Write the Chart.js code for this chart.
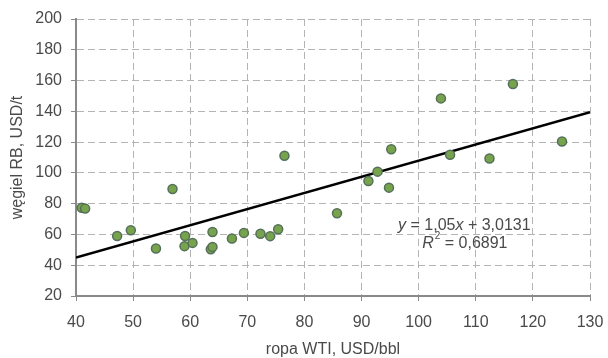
<!DOCTYPE html>
<html>
<head>
<meta charset="utf-8">
<script src="https://cdn.jsdelivr.net/npm/chart.js@4.4.1/dist/chart.umd.min.js"></script>
<style>
  html, body { margin: 0; padding: 0; background: #ffffff; }
  #wrap { width: 608px; height: 358px; }
</style>
</head>
<body>
<div id="wrap"><canvas id="c" width="608" height="358"></canvas></div>
<script>
// Data
const oilPrice  = [41.0, 41.6, 47.2, 49.6, 54.0, 56.9, 59.1, 59.0, 60.4, 63.6, 63.9, 63.9, 67.3, 69.4, 72.3, 74.0, 75.4, 76.5, 85.7, 91.2, 92.8, 95.2, 94.8, 103.9, 105.5, 112.4, 116.5, 125.1];
const coalPrice = [77.3, 76.8, 59.0, 62.7, 50.9, 89.5, 59.0, 52.4, 54.5, 50.4, 51.9, 61.6, 57.4, 61.0, 60.4, 58.9, 63.4, 111.1, 73.8, 94.7, 100.8, 115.4, 90.4, 148.4, 111.8, 109.4, 157.8, 120.4];
const trendSlope = [1.05];
const trendIntercept = [3.0131];
const trendRange = [40, 130];
const xTicks = [40, 50, 60, 70, 80, 90, 100, 110, 120, 130];
const yTicks = [20, 40, 60, 80, 100, 120, 140, 160, 180, 200];
const xTitle = 'ropa WTI, USD/bbl';
const yTitle = 'węgiel RB, USD/t';
const eqLine1 = ['y', ' = 1,05', 'x', ' + 3,0131'];
const eqLine2 = ['R', '2', ' = 0,6891'];

const FONT = '"Liberation Sans", Arial, sans-serif';
const TXT = '#4a4a4a';

const scatterData = oilPrice.map((x, i) => ({ x: x, y: coalPrice[i] }));
const trendData = trendRange.map(x => ({ x: x, y: trendSlope[0] * x + trendIntercept[0] }));

const eqPlugin = {
  id: 'eqLabel',
  afterDatasetsDraw(chart) {
    const ctx = chart.ctx;
    const xs = chart.scales.x, ys = chart.scales.y;
    const cx = xs.getPixelForValue(108);
    const y1 = ys.getPixelForValue(66);
    const y2 = ys.getPixelForValue(54.3);
    ctx.save();
    ctx.fillStyle = TXT;
    ctx.textBaseline = 'middle';
    ctx.textAlign = 'left';
    const normal = '16px ' + FONT;
    const ital = 'italic 16px ' + FONT;
    const small = '10px ' + FONT;
    const parts1 = [[eqLine1[0], ital], [eqLine1[1], normal], [eqLine1[2], ital], [eqLine1[3], normal]];
    let w = 0;
    parts1.forEach(p => { ctx.font = p[1]; w += ctx.measureText(p[0]).width; });
    let x = cx - w / 2;
    parts1.forEach(p => { ctx.font = p[1]; ctx.fillText(p[0], x, y1); x += ctx.measureText(p[0]).width; });
    ctx.font = ital; const wR = ctx.measureText(eqLine2[0]).width;
    ctx.font = small; const w2 = ctx.measureText(eqLine2[1]).width;
    ctx.font = normal; const wE = ctx.measureText(eqLine2[2]).width;
    x = cx - (wR + w2 + wE) / 2;
    ctx.font = ital; ctx.fillText(eqLine2[0], x, y2); x += wR + 1;
    ctx.font = small; ctx.fillText(eqLine2[1], x, y2 - 7); x += w2;
    ctx.font = normal; ctx.fillText(eqLine2[2], x, y2);
    ctx.restore();
  }
};

new Chart(document.getElementById('c'), {
  type: 'scatter',
  data: {
    datasets: [
      {
        type: 'line',
        data: trendData,
        borderColor: '#000000',
        borderWidth: 2.5,
        pointRadius: 0,
        fill: false,
        order: 2
      },
      {
        data: scatterData,
        backgroundColor: '#77a34c',
        borderColor: '#55705a',
        borderWidth: 1.5,
        pointRadius: 4.5,
        order: 1
      }
    ]
  },
  options: {
    responsive: false,
    animation: false,
    devicePixelRatio: 1,
    layout: { padding: { left: 0, right: 18, top: 19, bottom: 0 } },
    plugins: { legend: { display: false }, tooltip: { enabled: false } },
    scales: {
      x: {
        type: 'linear',
        min: trendRange[0],
        max: trendRange[1],
        afterBuildTicks(scale) { scale.ticks = xTicks.map(v => ({ value: v })); },
        afterFit(scale) { scale.height = 62; scale.paddingRight = 14; scale.paddingLeft = 14; },
        grid: { color: '#b4b4b4', lineWidth: 1, tickLength: 5, tickColor: '#8a8a8a', tickBorderDash: [] },
        border: { display: true, color: '#8a8a8a', width: 2, dash: [7, 4] },
        ticks: { color: TXT, font: { family: FONT, size: 16 }, padding: 12, maxRotation: 0, autoSkip: false },
        title: { display: true, text: xTitle, color: TXT, font: { family: FONT, size: 16, lineHeight: 1 }, padding: { top: 0, bottom: 0 } }
      },
      y: {
        type: 'linear',
        min: 20,
        max: 200,
        afterBuildTicks(scale) { scale.ticks = yTicks.map(v => ({ value: v })); },
        afterFit(scale) { scale.width = 76; },
        grid: { color: '#b4b4b4', lineWidth: 1, tickLength: 5, tickColor: '#8a8a8a', tickBorderDash: [] },
        border: { display: true, color: '#8a8a8a', width: 2, dash: [7, 4] },
        ticks: { color: TXT, font: { family: FONT, size: 16 }, padding: 9, autoSkip: false },
        title: { display: true, text: yTitle, color: TXT, font: { family: FONT, size: 16, lineHeight: 1 }, padding: { top: 10, bottom: 0 } }
      }
    }
  },
  plugins: [eqPlugin]
});
</script>
</body>
</html>
